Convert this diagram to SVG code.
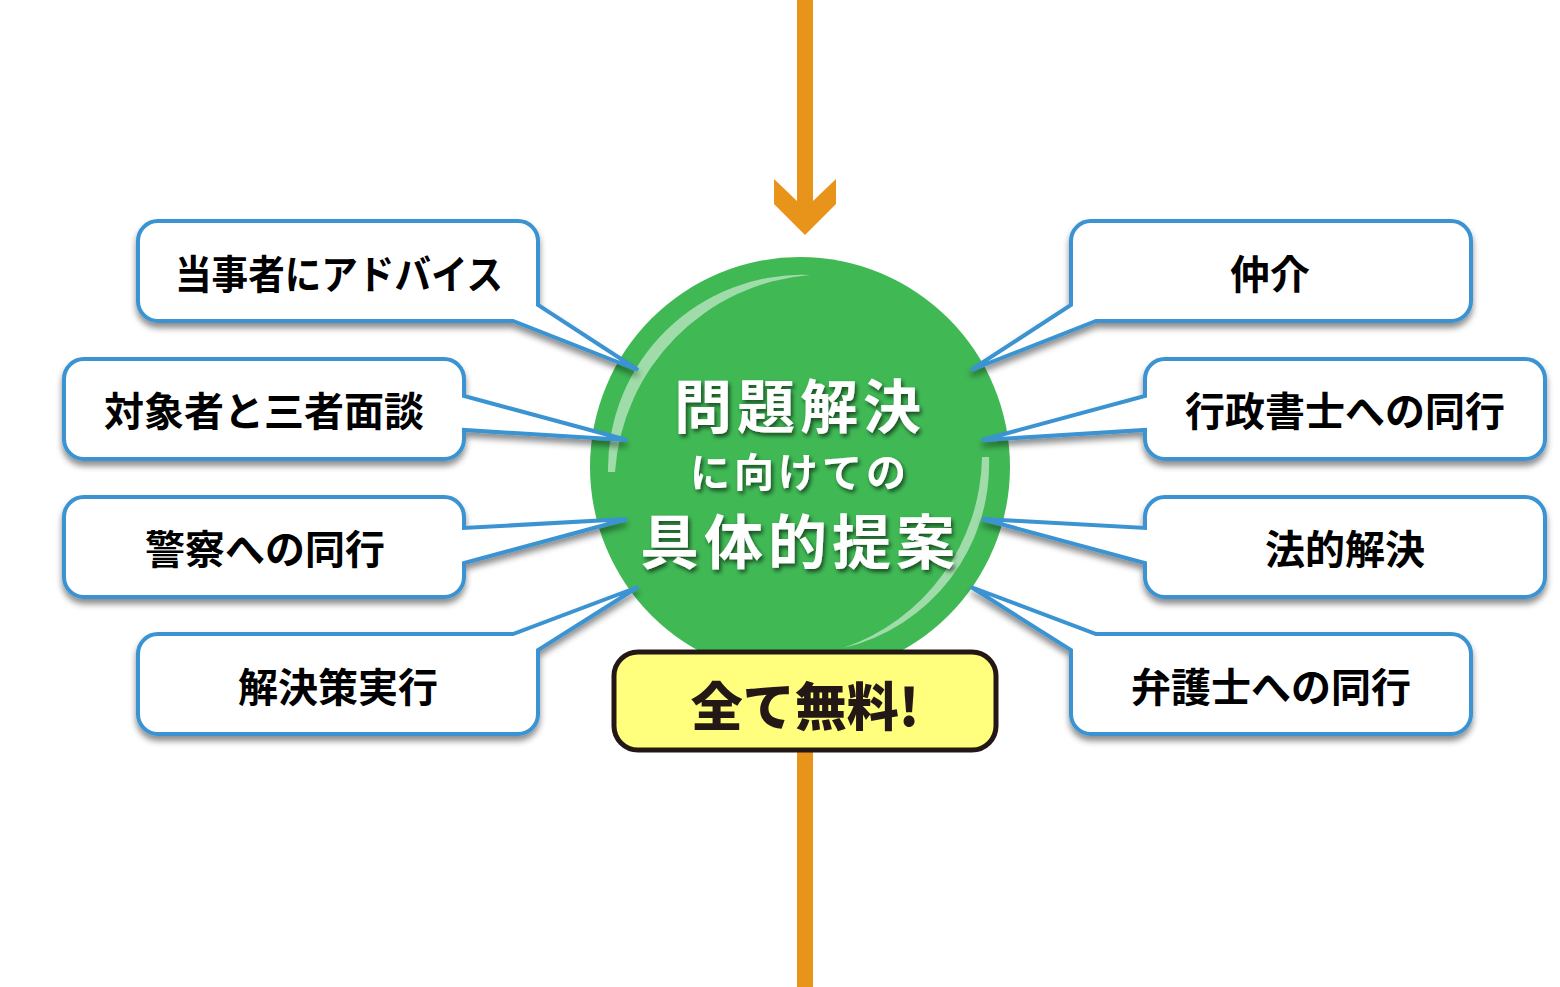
<svg xmlns="http://www.w3.org/2000/svg" width="1560" height="987" viewBox="0 0 1560 987">
<defs>
<style>
.orange{fill:#E8931A}
.box{fill:#fff;stroke:#3A93D2;stroke-width:4;stroke-linejoin:miter;filter:url(#bs)}
.lbl{font-family:"Noto Sans CJK JP","Noto Sans",sans-serif;font-weight:700;font-size:40px;fill:#000;text-anchor:middle;dominant-baseline:central}
.ctr{font-family:"Noto Sans CJK JP","Noto Sans",sans-serif;font-weight:700;fill:#fff;text-anchor:middle;dominant-baseline:central;filter:url(#ts)}
.hl{fill:#fff;fill-opacity:0.5}
</style>
<filter id="bs" x="-10%" y="-10%" width="130%" height="140%">
<feDropShadow dx="0" dy="5" stdDeviation="3" flood-color="#000" flood-opacity="0.45"/>
</filter>
<filter id="ts" x="-10%" y="-20%" width="130%" height="150%">
<feDropShadow dx="2" dy="3" stdDeviation="2" flood-color="#000" flood-opacity="0.6"/>
</filter>
</defs>
<rect width="1560" height="987" fill="#fff"/>
<g id="connectors">
<polygon class="orange" points="797,0 813,0 813,201 836,179 836,204 805,235 774,204 774,179 797,201"/>
<rect class="orange" x="797" y="745" width="16" height="242"/>
</g>
<g id="center">
<circle cx="800" cy="467" r="210" fill="#40B955"/>
<path class="hl" d="M608,472 A194,194 0 0 1 810,275 A212,212 0 0 0 615,472 Z"/>
<path class="hl" d="M989,457 A189,189 0 0 1 843,648 A205,205 0 0 0 982,457 Z"/>
<text class="ctr" x="800" y="403" font-size="58" letter-spacing="5">問題解決</text>
<text class="ctr" x="800" y="470" font-size="40" letter-spacing="4">に向けての</text>
<text class="ctr" x="800" y="538" font-size="59" letter-spacing="5">具体的提案</text>
</g>
<g id="free">
<rect x="614" y="652" width="382" height="98" rx="24" fill="#FFFF7D" stroke="#231815" stroke-width="5"/>
<text x="805" y="703" font-family="&quot;Noto Sans CJK JP&quot;,sans-serif" font-weight="900" font-size="52" fill="#231815" text-anchor="middle" dominant-baseline="central">全て無料!</text>
</g>
<g id="n1">
<path class="box" d="M158,221 H518 A20,20 0 0 1 538,241 V305 L638,370 L513,321 H158 A20,20 0 0 1 138,301 V241 A20,20 0 0 1 158,221 Z"/>
<text class="lbl" x="339" y="272" textLength="328" lengthAdjust="spacingAndGlyphs">当事者にアドバイス</text>
</g>
<g id="n2">
<path class="box" d="M84,359 H444 A20,20 0 0 1 464,379 V396 L627,440 L464,430 V439 A20,20 0 0 1 444,459 H84 A20,20 0 0 1 64,439 V379 A20,20 0 0 1 84,359 Z"/>
<text class="lbl" x="264" y="409">対象者と三者面談</text>
</g>
<g id="n3">
<path class="box" d="M84,497 H444 A20,20 0 0 1 464,517 V528 L627,519 L464,563 V577 A20,20 0 0 1 444,597 H84 A20,20 0 0 1 64,577 V517 A20,20 0 0 1 84,497 Z"/>
<text class="lbl" x="265" y="547">警察への同行</text>
</g>
<g id="n4">
<path class="box" d="M158,634 H513 L638,587 L538,650 V714 A20,20 0 0 1 518,734 H158 A20,20 0 0 1 138,714 V654 A20,20 0 0 1 158,634 Z"/>
<text class="lbl" x="338" y="685">解決策実行</text>
</g>
<g id="n5">
<path class="box" d="M1091,221 H1451 A20,20 0 0 1 1471,241 V301 A20,20 0 0 1 1451,321 H1096 L971,370 L1071,305 V241 A20,20 0 0 1 1091,221 Z"/>
<text class="lbl" x="1270" y="272">仲介</text>
</g>
<g id="n6">
<path class="box" d="M1165,359 H1525 A20,20 0 0 1 1545,379 V439 A20,20 0 0 1 1525,459 H1165 A20,20 0 0 1 1145,439 V430 L982,440 L1145,396 V379 A20,20 0 0 1 1165,359 Z"/>
<text class="lbl" x="1345" y="409">行政書士への同行</text>
</g>
<g id="n7">
<path class="box" d="M1165,497 H1525 A20,20 0 0 1 1545,517 V577 A20,20 0 0 1 1525,597 H1165 A20,20 0 0 1 1145,577 V563 L982,519 L1145,528 V517 A20,20 0 0 1 1165,497 Z"/>
<text class="lbl" x="1345" y="547">法的解決</text>
</g>
<g id="n8">
<path class="box" d="M1096,634 H1451 A20,20 0 0 1 1471,654 V714 A20,20 0 0 1 1451,734 H1091 A20,20 0 0 1 1071,714 V650 L971,587 L1096,634 Z"/>
<text class="lbl" x="1271" y="685">弁護士への同行</text>
</g>
</svg>
